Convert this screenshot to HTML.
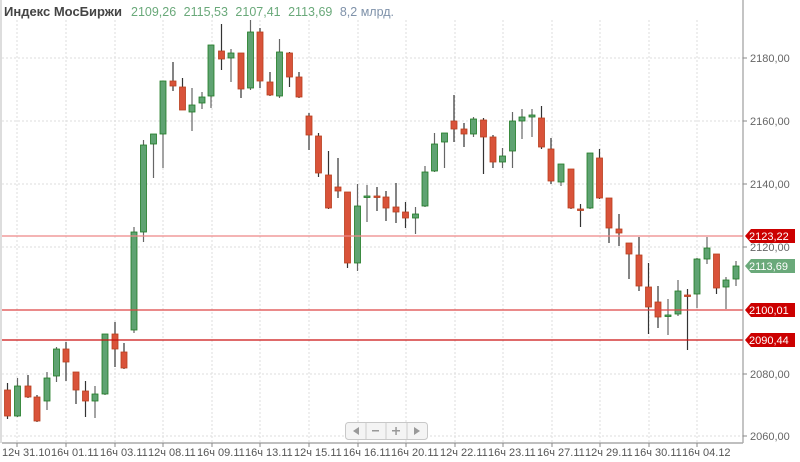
<!DOCTYPE html>
<html><head><meta charset="utf-8"><style>
body{margin:0;background:#fff;width:800px;height:462px;overflow:hidden;font-family:"Liberation Sans",sans-serif}
svg{display:block}
</style></head><body>
<svg id="s" width="800" height="462" xmlns="http://www.w3.org/2000/svg" font-family="Liberation Sans, sans-serif">
<rect width="800" height="462" fill="#fff"/>
<line x1="1" y1="0" x2="1" y2="443" stroke="#bbb"/>
<g stroke="#ddd" stroke-dasharray="2,2">
<line x1="2" y1="58" x2="743" y2="58"/><line x1="2" y1="121" x2="743" y2="121"/><line x1="2" y1="184" x2="743" y2="184"/><line x1="2" y1="247" x2="743" y2="247"/><line x1="2" y1="310" x2="743" y2="310"/><line x1="2" y1="374" x2="743" y2="374"/><line x1="2" y1="436" x2="743" y2="436"/>
<line x1="17" y1="20" x2="17" y2="443"/><line x1="66" y1="20" x2="66" y2="443"/><line x1="115" y1="20" x2="115" y2="443"/><line x1="163" y1="20" x2="163" y2="443"/><line x1="212" y1="20" x2="212" y2="443"/><line x1="260" y1="20" x2="260" y2="443"/><line x1="309" y1="20" x2="309" y2="443"/><line x1="358" y1="20" x2="358" y2="443"/><line x1="406" y1="20" x2="406" y2="443"/><line x1="455" y1="20" x2="455" y2="443"/><line x1="503" y1="20" x2="503" y2="443"/><line x1="552" y1="20" x2="552" y2="443"/><line x1="600" y1="20" x2="600" y2="443"/><line x1="649" y1="20" x2="649" y2="443"/><line x1="697" y1="20" x2="697" y2="443"/>
</g>
<text x="4" y="16" font-size="13" font-weight="bold" fill="#444">Индекс МосБиржи</text>
<text x="131" y="16" font-size="12.5" fill="#6aa97a">2109,26 <tspan dx="4">2115,53</tspan> <tspan dx="4">2107,41</tspan> <tspan dx="4">2113,69</tspan> <tspan dx="4" fill="#7f92aa">8,2 млрд.</tspan></text>
<g id="c"></g>
<line x1="2" y1="236" x2="743" y2="236" stroke="#e88" stroke-width="1.3"/>
<line x1="2" y1="310" x2="743" y2="310" stroke="#d44" stroke-width="1.2"/>
<line x1="2" y1="340" x2="743" y2="340" stroke="#c11" stroke-width="1.2"/>
<line x1="743" y1="0" x2="743" y2="443" stroke="#888"/>
<line x1="2" y1="443" x2="743" y2="443" stroke="#aaa" stroke-width="1.5"/>
<g stroke="#888"><line x1="743" y1="58" x2="747" y2="58"/><line x1="743" y1="121" x2="747" y2="121"/><line x1="743" y1="184" x2="747" y2="184"/><line x1="743" y1="247" x2="747" y2="247"/><line x1="743" y1="374" x2="747" y2="374"/><line x1="743" y1="436" x2="747" y2="436"/></g>
<g font-size="11" fill="#666">
<text x="750" y="62">2180,00</text><text x="750" y="125">2160,00</text><text x="750" y="188">2140,00</text><text x="750" y="251">2120,00</text><text x="750" y="378">2080,00</text><text x="750" y="440">2060,00</text>
</g>
<g font-size="11">
<path d="M745,236 L751,229 H795 V243 H751 Z" fill="#c00"/><text x="749" y="240" fill="#fff">2123,22</text>
<path d="M745,266 L751,259 H795 V273 H751 Z" fill="#6aa97a"/><text x="749" y="270" fill="#fff">2113,69</text>
<path d="M745,310 L751,303 H795 V317 H751 Z" fill="#c00"/><text x="749" y="314" fill="#fff">2100,01</text>
<path d="M745,340 L751,333 H795 V347 H751 Z" fill="#c00"/><text x="749" y="344" fill="#fff">2090,44</text>
</g>
<g stroke="#888"><line x1="17" y1="443" x2="17" y2="447"/><line x1="66" y1="443" x2="66" y2="447"/><line x1="115" y1="443" x2="115" y2="447"/><line x1="163" y1="443" x2="163" y2="447"/><line x1="212" y1="443" x2="212" y2="447"/><line x1="260" y1="443" x2="260" y2="447"/><line x1="309" y1="443" x2="309" y2="447"/><line x1="358" y1="443" x2="358" y2="447"/><line x1="406" y1="443" x2="406" y2="447"/><line x1="455" y1="443" x2="455" y2="447"/><line x1="503" y1="443" x2="503" y2="447"/><line x1="552" y1="443" x2="552" y2="447"/><line x1="600" y1="443" x2="600" y2="447"/><line x1="649" y1="443" x2="649" y2="447"/><line x1="697" y1="443" x2="697" y2="447"/></g>
<g font-size="11" fill="#555">
<text x="2" y="456">12ч 31.10</text><text x="51" y="456">16ч 01.11</text><text x="100" y="456">16ч 03.11</text><text x="148" y="456">12ч 08.11</text><text x="197" y="456">16ч 09.11</text><text x="245" y="456">16ч 13.11</text><text x="294" y="456">12ч 15.11</text><text x="343" y="456">16ч 16.11</text><text x="391" y="456">16ч 20.11</text><text x="440" y="456">12ч 22.11</text><text x="488" y="456">16ч 23.11</text><text x="537" y="456">16ч 27.11</text><text x="585" y="456">12ч 29.11</text><text x="634" y="456">16ч 30.11</text><text x="682" y="456">16ч 04.12</text>
</g>
<g>
<rect x="345.5" y="422.5" width="82" height="17" rx="3" fill="#f4f4f4" stroke="#c8c8c8"/>
<line x1="366" y1="423" x2="366" y2="439" stroke="#ccc"/><line x1="386" y1="423" x2="386" y2="439" stroke="#ccc"/><line x1="407" y1="423" x2="407" y2="439" stroke="#ccc"/>
<path d="M353,431 L359,427 V435 Z" fill="#999"/>
<rect x="372" y="430" width="7" height="1.5" fill="#999"/>
<rect x="392" y="430" width="8" height="1.5" fill="#999"/><rect x="395.3" y="427" width="1.5" height="8" fill="#999"/>
<path d="M420,431 L414,427 V435 Z" fill="#999"/>
</g>
</svg>
<script>
var d=[[7.5,'r',390,416,383,419],[17.5,'g',386,416,378,417],[28,'r',386,397,375,398],[37,'r',397,421,395,422],[47,'g',378,401,372,410],[56.5,'g',349,376,347,382],[66,'r',349,362,342,381],[76,'r',372,390,372,404],[85.5,'r',391,401,381,417],[95,'g',394,401,386,418],[105,'g',334,394,334,395],[115,'r',334,349,322,367],[124,'r',352,368,343,369],[134,'g',232,330,227,333],[143.5,'g',145,232,140,242],[153.5,'g',134,144,134,178],[163,'g',81,134,81,168],[173,'r',81,86,62,91],[182.5,'r',87,110,78,110],[192,'g',105,112,88,131],[202,'g',97,103,92,109],[211,'g',45,96,45,108],[221.5,'r',51,59,24,70],[231,'g',53,58,49,82],[241,'r',53,89,53,98],[250.5,'g',32,88,20,90],[260,'r',32,81,28,88],[270,'r',82,95,72,96],[279.5,'g',52,96,39,98],[289.5,'r',53,77,52,87],[299,'r',77,97,72,98],[309,'r',116,135,113,150],[318.5,'r',136,173,133,177],[328.5,'r',175,208,151,209],[338,'r',187,191,158,198],[347.5,'r',192,263,192,268],[357.5,'g',206,263,184,271],[367,'g',196,197,185,222],[377,'r',196,197,187,211],[386,'r',197,208,191,221],[396,'r',207,212,183,223],[405.5,'r',212,218,202,228],[415.5,'g',214,218,207,234],[425,'g',172,206,166,207],[434.5,'g',144,171,133,172],[444.5,'g',133,142,133,168],[454,'r',121,129,95,142],[464,'r',129,134,123,147],[473.5,'g',119,134,117,137],[483.5,'r',120,137,118,174],[493,'r',137,162,135,168],[502.5,'g',156,162,148,168],[512.5,'g',121,151,112,168],[522,'g',117,121,109,139],[532,'g',115,117,109,137],[541.5,'r',118,147,106,149],[551,'r',149,181,138,184],[561,'g',164,182,164,186],[571,'r',169,208,169,209],[580.5,'r',209,210,204,227],[590,'g',153,208,153,209],[599.5,'r',158,198,149,199],[609,'r',198,228,198,243],[619,'r',229,233,214,246],[629,'r',243,254,243,279],[639,'r',255,286,237,291],[648.5,'r',287,307,263,334],[658,'r',302,317,286,328],[668,'g',315,316,299,335],[678,'g',291,314,280,316],[687.5,'r',295,296,289,350],[697,'g',259,294,258,308],[707,'g',248,259,237,264],[716.5,'r',254,288,254,294],[726,'g',280,287,277,309],[736,'g',266,279,261,286]];
var h='';d.forEach(function(c){var x=c[0],f=c[1]=='r'?'#d9533a':'#5fa372',s=c[1]=='r'?'#b8401f':'#1f7a24',w=c[1]=='r'?'#333':'#666';
h+='<line x1="'+x+'" y1="'+c[4]+'" x2="'+x+'" y2="'+c[5]+'" stroke="'+w+'" stroke-width="1.2"/>';
var hh=Math.max(c[3]-c[2],1.5);h+='<rect x="'+(x-3)+'" y="'+c[2]+'" width="6" height="'+hh+'" fill="'+f+'" stroke="'+s+'" stroke-width="0.8"/>';});
document.getElementById('c').innerHTML=h;
</script>
</body></html>
